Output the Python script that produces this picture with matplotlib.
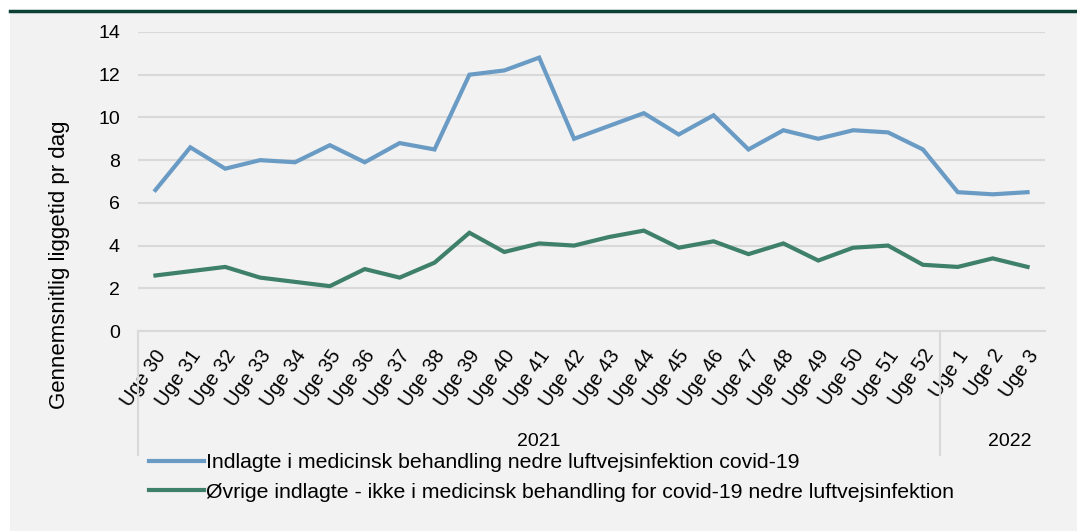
import matplotlib.pyplot as plt
from matplotlib.lines import Line2D
from matplotlib.patches import Rectangle
import matplotlib.transforms as mtransforms

plt.rcParams['font.family'] = ['Liberation Sans', 'DejaVu Sans']

weeks = ["Uge 30", "Uge 31", "Uge 32", "Uge 33", "Uge 34", "Uge 35", "Uge 36",
         "Uge 37", "Uge 38", "Uge 39", "Uge 40", "Uge 41", "Uge 42", "Uge 43",
         "Uge 44", "Uge 45", "Uge 46", "Uge 47", "Uge 48", "Uge 49", "Uge 50",
         "Uge 51", "Uge 52", "Uge 1", "Uge 2", "Uge 3"]
covid = [6.6, 8.6, 7.6, 8.0, 7.9, 8.7, 7.9, 8.8, 8.5, 12.0, 12.2, 12.8, 9.0,
         9.6, 10.2, 9.2, 10.1, 8.5, 9.4, 9.0, 9.4, 9.3, 8.5, 6.5, 6.4, 6.5]
others = [2.6, 2.8, 3.0, 2.5, 2.3, 2.1, 2.9, 2.5, 3.2, 4.6, 3.7, 4.1, 4.0,
          4.4, 4.7, 3.9, 4.2, 3.6, 4.1, 3.3, 3.9, 4.0, 3.1, 3.0, 3.4, 3.0]
years = ["2021", "2022"]
year_start = [0, 23]  # first week index of each year

series_names = ["Indlagte i medicinsk behandling nedre luftvejsinfektion covid-19",
                "Øvrige indlagte - ikke i medicinsk behandling for covid-19 nedre luftvejsinfektion"]
blue = "#6a9bc4"
green = "#3e8069"
bg = "#f2f2f2"
grid_c = "#d9d9d9"

W, H = 1077, 531
fig = plt.figure(figsize=(W / 100, H / 100), dpi=100)
fig.patch.set_facecolor("white")

# grey panel with dark rule on top
fig.patches.append(Rectangle((10 / W, 0), 1 - 10 / W, 1 - 12 / H,
                             transform=fig.transFigure, facecolor=bg,
                             edgecolor="none", zorder=-5))
fig.lines.append(Line2D([10 / W, 1], [1 - 10.5 / H, 1 - 10.5 / H],
                        transform=fig.transFigure, color="#0d4035", lw=2.5,
                        zorder=-4))

ax_h = 331 - 32
ax = fig.add_axes([138 / W, 200 / H, (1045 - 138) / W, ax_h / H])
ax.set_zorder(1)
ax.patch.set_visible(False)

x = list(range(len(weeks)))
ax.plot(x, covid, color=blue, lw=3, solid_joinstyle="miter", zorder=3)
ax.plot(x, others, color=green, lw=3, solid_joinstyle="miter", zorder=3)

ax.set_xlim(-0.5, len(weeks) - 0.5)
ax.set_ylim(0, 14)
ax.set_yticks(range(0, 15, 2))
ax.yaxis.grid(True, color=grid_c, lw=1.5)
ax.set_axisbelow(True)
for s in ["top", "right", "left"]:
    ax.spines[s].set_visible(False)
ax.spines["bottom"].set_color(grid_c)
ax.spines["bottom"].set_linewidth(1.5)
ax.tick_params(axis="y", length=0, pad=13, labelsize=14)
ax.tick_params(axis="x", length=0, pad=3)
ax.set_xticks(x)
ax.set_xticklabels(weeks, rotation=55, ha="right", va="top",
                   rotation_mode="anchor", fontsize=14.3)
for lbl in ax.get_xticklabels():
    lbl.set_transform(lbl.get_transform() +
                      mtransforms.ScaledTranslation(-1 / 100, -11 / 100, fig.dpi_scale_trans))

ax.set_ylabel("Gennemsnitlig liggetid pr dag", fontsize=16)
ax.yaxis.set_label_coords(-68 / (1045 - 138), (331 - 265) / ax_h)

# year grouping below the week labels
trans = mtransforms.blended_transform_factory(ax.transData, ax.transAxes)
sep_bottom = -(455 - 331) / ax_h
for start in year_start:
    ax.plot([start - 0.5, start - 0.5], [0, sep_bottom], transform=trans,
            color=grid_c, lw=1.5, clip_on=False)
ends = year_start[1:] + [len(weeks)]
year_y = -(441 - 331) / ax_h
ax.text((year_start[0] + ends[0] - 1) / 2, year_y, years[0], transform=trans,
        ha="center", va="center", fontsize=14)
ax.text(24.5, year_y, years[1], transform=trans,
        ha="center", va="center", fontsize=14)

handles = [Line2D([], [], color=blue, lw=3), Line2D([], [], color=green, lw=3)]
leg = fig.legend(handles, series_names, loc="upper left",
                 bbox_to_anchor=(130 / W, 1 - 434 / H), frameon=False,
                 handlelength=2.6, handletextpad=0.1, labelspacing=0.5,
                 fontsize=15.3)

fig.savefig("out.png", dpi=100, facecolor=fig.get_facecolor())
